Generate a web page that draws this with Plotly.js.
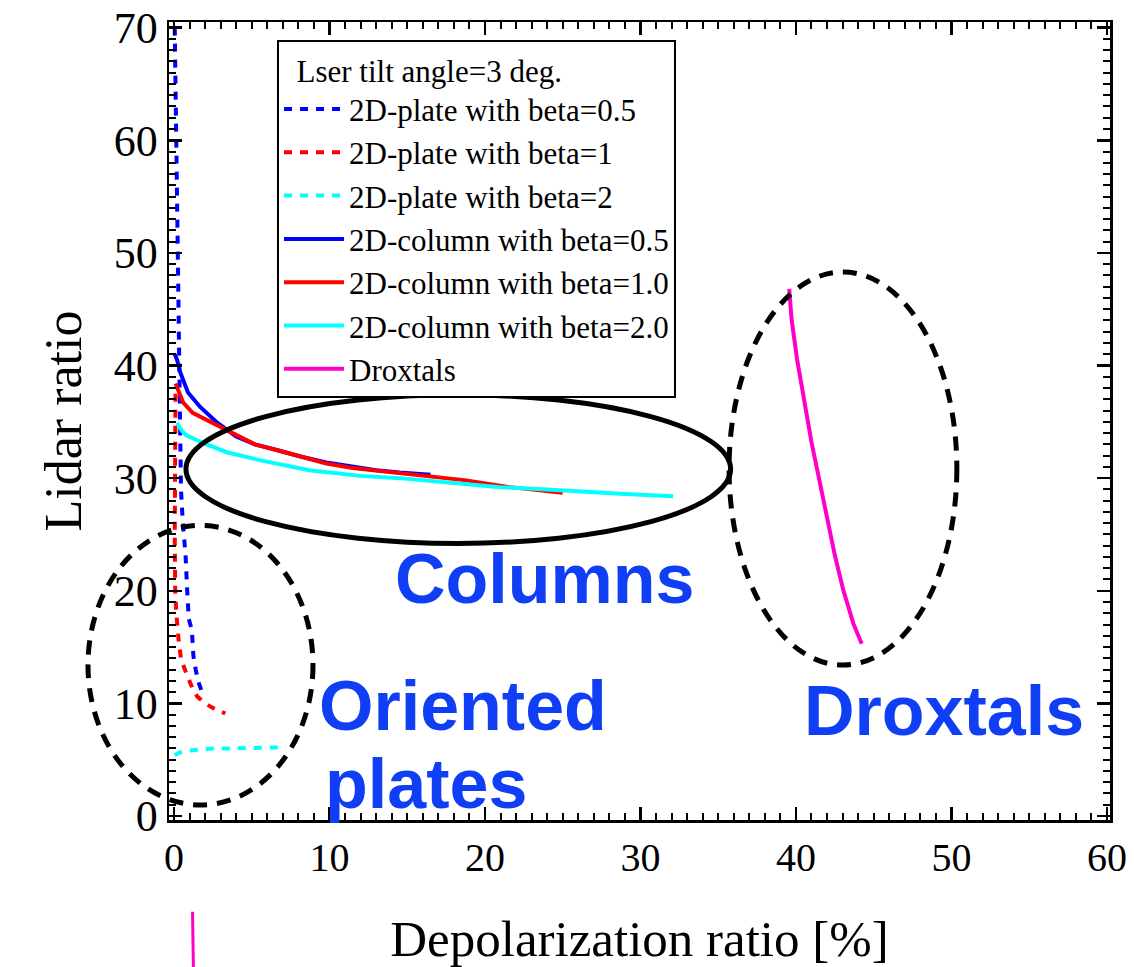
<!DOCTYPE html>
<html>
<head>
<meta charset="utf-8">
<script src="https://cdn.plot.ly/plotly-3.0.1.min.js"></script>
<style>html,body{margin:0;padding:0;background:#fff;}#chart{width:1134px;height:967px;}</style>
</head>
<body>
<div id="chart"></div>
<script>
// ---- Data ----
const plate05_x = [0.05, 0.10, 0.15, 0.20, 0.22, 0.25, 0.30, 0.35, 0.45, 0.55, 0.65, 0.75, 0.85, 0.95, 1.15, 1.25, 1.40, 1.55, 1.75];
const plate05_y = [70, 65, 60, 55, 50, 45, 40, 35, 29, 26.5, 25, 23, 20, 17.5, 16.5, 14.2, 13, 12, 11.2];

const plate1_x = [0.10, 0.08, 0.05, 0.05, 0.08, 0.15, 0.30, 0.45, 0.70, 0.95, 1.20, 1.50, 2.00, 2.50, 3.30];
const plate1_y = [37.5, 35, 30, 25, 20, 18, 15.6, 14, 13, 12.2, 11.3, 10.6, 10, 9.6, 9.1];

const plate2_x = [0.05, 0.30, 0.80, 1.50, 2.50, 3.50, 4.50, 5.50, 6.50, 7.20];
const plate2_y = [5.4, 5.6, 5.8, 5.9, 6.0, 6.0, 6.05, 6.1, 6.1, 6.1];

const col05_x = [0.05, 0.2, 0.4, 0.9, 1.7, 2.8, 4.0, 5.2, 6.6, 8.2, 9.8, 11.5, 13.0, 14.5, 16.5];
const col05_y = [41.0, 40.5, 39.4, 37.6, 36.3, 34.9, 33.7, 33.0, 32.5, 31.9, 31.4, 31.0, 30.7, 30.5, 30.3];

const col1_x = [0.1, 0.3, 0.6, 1.2, 2.5, 4.0, 5.2, 6.6, 8.2, 9.8, 11.5, 14.1, 17.3, 18.8, 21.6, 23.5, 25.0];
const col1_y = [38.4, 37.8, 36.7, 35.8, 34.9, 33.8, 33.0, 32.5, 31.9, 31.3, 30.9, 30.5, 30.0, 29.8, 29.2, 28.9, 28.7];

const col2_x = [0.2, 0.5, 0.8, 1.9, 3.4, 5.5, 8.7, 12.0, 14.5, 17.5, 21.0, 24.0, 26.3, 29.0, 32.1];
const col2_y = [34.9, 34.2, 33.8, 33.1, 32.3, 31.6, 30.7, 30.2, 30.0, 29.6, 29.2, 29.0, 28.8, 28.6, 28.4];

const drox_x = [39.57, 39.72, 40.08, 40.47, 41.0, 41.54, 41.98, 42.51, 43.04, 43.69, 44.23];
const drox_y = [46.8, 44.1, 40.5, 37.3, 33.2, 29.6, 26.6, 23.1, 20.1, 17.1, 15.3];

const seriesNames = [
  "2D-plate with beta=0.5", "2D-plate with beta=1", "2D-plate with beta=2",
  "2D-column with beta=0.5", "2D-column with beta=1.0", "2D-column with beta=2.0", "Droxtals"
];
const legendTitle = "Lser tilt angle=3 deg.";
const xTitle = "Depolarization ratio [%]";
const yTitle = "Lidar ratio";
const xTicks = [0, 10, 20, 30, 40, 50, 60];
const yTicks = [0, 10, 20, 30, 40, 50, 60, 70];

// ---- Styling ----
const XR = [-0.32, 60.2];
const YR = [-0.355, 70.5];
const DOT = "8px,8px";
const serif = "Liberation Serif";
const sans = "Liberation Sans";
const labelBlue = "#0f3ef5";

function tr(x, y, name, color, dash) {
  return {x: x, y: y, name: name, type: "scatter", mode: "lines",
          line: {color: color, width: 4, dash: dash}};
}
const data = [
  tr(plate05_x, plate05_y, seriesNames[0], "#0000ff", DOT),
  tr(plate1_x, plate1_y, seriesNames[1], "#ff0000", DOT),
  tr(plate2_x, plate2_y, seriesNames[2], "#00ffff", DOT),
  tr(col05_x, col05_y, seriesNames[3], "#0000ff", "solid"),
  tr(col1_x, col1_y, seriesNames[4], "#ff0000", "solid"),
  tr(col2_x, col2_y, seriesNames[5], "#00ffff", "solid"),
  tr(drox_x, drox_y, seriesNames[6], "#ff00cc", "solid")
];

function dx(v) { return (v - XR[0]) / (XR[1] - XR[0]); }
function dy(v) { return (v - YR[0]) / (YR[1] - YR[0]); }
function ellipse(x0, x1, y0, y1, dash) {
  return {type: "circle", xref: "x domain", yref: "y domain",
          x0: dx(x0), x1: dx(x1), y0: dy(y0), y1: dy(y1),
          line: {color: "#000", width: 5, dash: dash}, layer: "above"};
}

const shapes = [
  ellipse(0.77, 35.8, 24.2, 37.4, "solid"),
  ellipse(-5.53, 8.94, 0.98, 25.8, "14px,10px"),
  ellipse(35.7, 50.35, 13.4, 48.3, "14px,10px"),
  {type: "line", xref: "paper", yref: "paper", x0: 0.025, x1: 0.026, y0: -0.115, y1: -0.19,
   line: {color: "#ff00cc", width: 3}}
];

function lab(text, x, y, xanchor) {
  return {text: text, x: x, y: y, xref: "x", yref: "y", showarrow: false,
          xanchor: xanchor, yanchor: "middle",
          font: {family: sans, size: 70, color: labelBlue, weight: "bold"}};
}
const annotations = [
  lab("Columns", 23.8, 21.0, "center"),
  lab("Oriented", 9.2, 9.8, "left"),
  lab("plates", 9.6, 2.85, "left"),
  lab("Droxtals", 49.5, 9.35, "center")
];

const axisCommon = {
  showline: true, linecolor: "#000", linewidth: 2.5, mirror: "ticks",
  ticks: "inside", ticklen: 13, tickwidth: 2.5, tickcolor: "#000",
  showgrid: false, zeroline: false,
  minor: {dtick: 1, ticks: "inside", ticklen: 7, tickwidth: 2, tickcolor: "#000", showgrid: false}
};

const layout = {
  width: 1134, height: 967,
  margin: {l: 169, r: 24, t: 22, b: 147},
  paper_bgcolor: "#fff", plot_bgcolor: "#fff",
  font: {family: serif, color: "#000"},
  showlegend: true,
  xaxis: Object.assign({}, axisCommon, {
    range: XR, tickvals: xTicks, ticktext: xTicks.map(String),
    tickfont: {family: serif, size: 40, color: "#000"},
    title: {text: xTitle, font: {family: serif, size: 51, color: "#000"}, standoff: 46}
  }),
  yaxis: Object.assign({}, axisCommon, {
    range: YR, tickvals: yTicks, ticktext: yTicks.map(String),
    tickfont: {family: serif, size: 44, color: "#000"},
    title: {text: yTitle, font: {family: serif, size: 52, color: "#000"}, standoff: 16}
  }),
  legend: {
    x: 0.1148, y: 0.9774, xanchor: "left", yanchor: "top",
    bgcolor: "#fff", bordercolor: "#000", borderwidth: 2,
    font: {family: serif, size: 31, color: "#000"},
    title: {text: "\u00a0\u00a0" + legendTitle, font: {family: serif, size: 31, color: "#000"}},
    itemwidth: 60,
    tracegroupgap: 0
  },
  shapes: shapes,
  annotations: annotations
};

Plotly.newPlot("chart", data, layout, {displayModeBar: false, staticPlot: true});
</script>
</body>
</html>
